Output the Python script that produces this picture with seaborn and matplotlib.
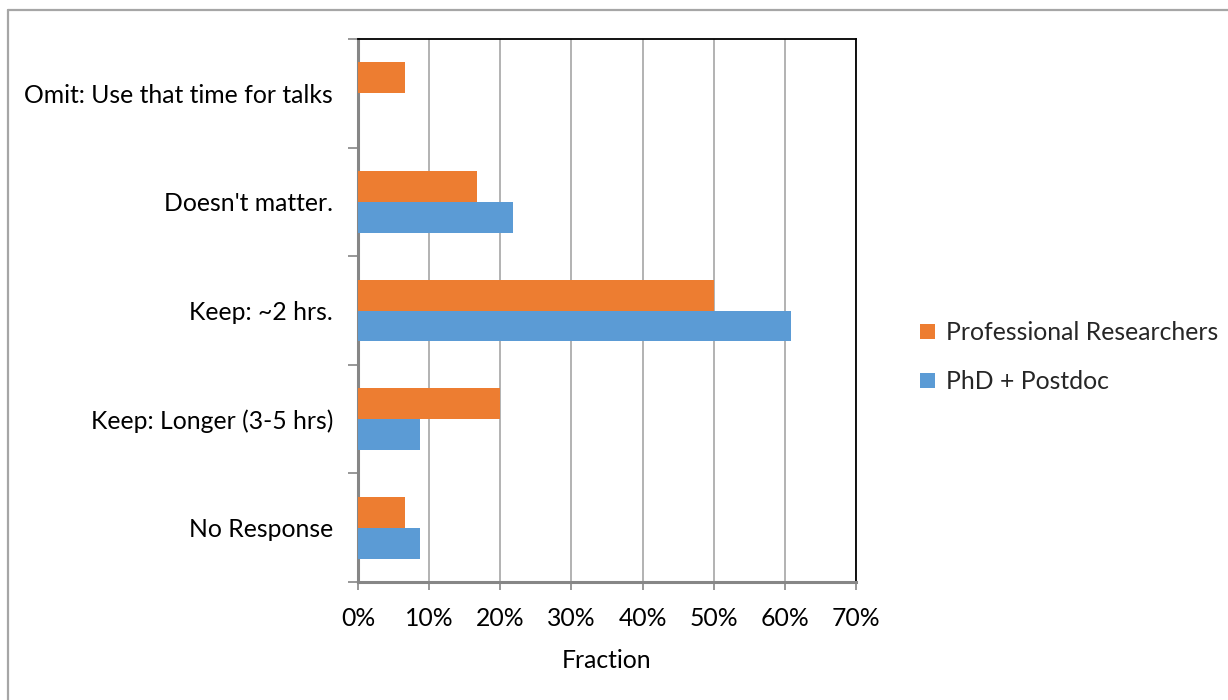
import matplotlib
matplotlib.use("Agg")
import matplotlib.pyplot as plt
from matplotlib.lines import Line2D
from matplotlib.ticker import PercentFormatter, MultipleLocator, FixedLocator
import seaborn as sns
import pandas as pd

categories = [
    "Omit: Use that time for talks",
    "Doesn't matter.",
    "Keep: ~2 hrs.",
    "Keep: Longer (3-5 hrs)",
    "No Response",
]
groups = ["Professional Researchers", "PhD + Postdoc"]
professional = [6.67, 16.67, 50.0, 20.0, 6.67]
phd_postdoc = [0.0, 21.74, 60.87, 8.70, 8.70]
colors = ["#ED7D31", "#5B9BD5"]

df = pd.DataFrame({
    "Response": categories * 2,
    "Group": [groups[0]] * len(categories) + [groups[1]] * len(categories),
    "Fraction": professional + phd_postdoc,
})

sns.set_theme(style="white")
plt.rcParams["font.family"] = ["Lato", "DejaVu Sans"]
FS = 17.8

fig = plt.figure(figsize=(12.28, 7.0), dpi=100)
ax = fig.add_axes([358 / 1228, 1 - 582 / 700, (856 - 358) / 1228, (582 - 39) / 700])

sns.barplot(
    data=df, y="Response", x="Fraction", hue="Group",
    order=categories, hue_order=groups, palette=colors,
    orient="h", width=0.57, saturation=1.0, ax=ax, zorder=3,
)
for p in ax.patches:
    p.set_edgecolor("none")

ax.set_xlim(0, 70)
ax.set_ylim(len(categories) - 0.5, -0.5)
ax.xaxis.set_major_locator(MultipleLocator(10))
ax.xaxis.set_major_formatter(PercentFormatter(decimals=0))
ax.grid(axis="x", color="#A6A6A6", linewidth=1.2, zorder=0)
ax.grid(axis="y", visible=False)
ax.set_axisbelow(True)

# category boundaries carry the y ticks
ax.yaxis.set_major_locator(FixedLocator(range(len(categories))))
ax.set_yticklabels(categories)
ax.yaxis.set_minor_locator(FixedLocator([i - 0.5 for i in range(len(categories) + 1)]))
ax.tick_params(axis="y", which="major", length=0, pad=18, labelsize=FS, colors="black")
ax.tick_params(axis="y", which="minor", left=True, length=7, width=1.2, color="#868686")
ax.tick_params(axis="x", which="major", bottom=True, length=6, width=1.2,
               color="#868686", pad=12, labelsize=FS, colors="black")
for lbl in ax.get_xticklabels():
    lbl.set_color("black")

ax.set_ylabel("")
ax.set_xlabel("Fraction", fontsize=FS, labelpad=14, color="black")

for side in ("left", "bottom"):
    ax.spines[side].set_color("#868686")
    ax.spines[side].set_linewidth(2.2)
for side in ("top", "right"):
    ax.spines[side].set_color("black")
    ax.spines[side].set_linewidth(1.3)
    ax.spines[side].set_visible(True)

leg = ax.legend(
    loc="center left", bbox_to_anchor=(1.129, 0.414), frameon=False,
    fontsize=FS, handlelength=0.6, handleheight=0.6, handletextpad=0.45,
    labelspacing=1.05, borderaxespad=0, borderpad=0,
)
for h in leg.legend_handles:
    h.set_edgecolor("none")

# outer chart-area frame (top and left edges)
fig.add_artist(Line2D([8 / 1228, 1.0], [1 - 10 / 700, 1 - 10 / 700],
                      transform=fig.transFigure, color="#A6A6A6", linewidth=1.6))
fig.add_artist(Line2D([8 / 1228, 8 / 1228], [0.0, 1 - 10 / 700],
                      transform=fig.transFigure, color="#A6A6A6", linewidth=1.6))

fig.savefig("out.png", dpi=100, facecolor="white")
